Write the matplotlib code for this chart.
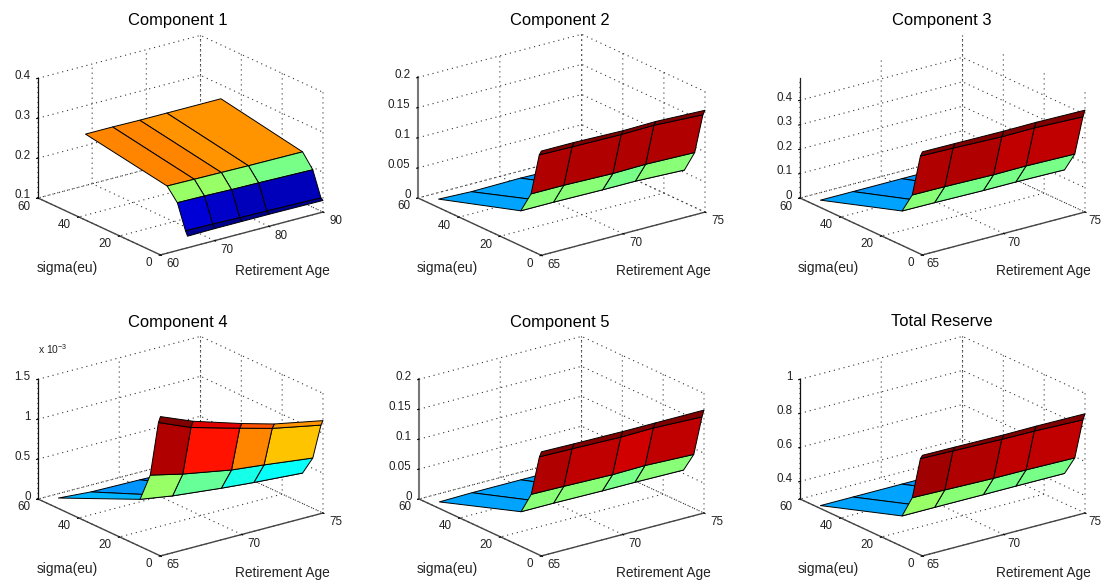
import numpy as np
import matplotlib
matplotlib.use("Agg")
import matplotlib.pyplot as plt
from matplotlib.colors import LinearSegmentedColormap
from mpl_toolkits.mplot3d import proj3d

plt.rcParams["font.family"] = ["Liberation Sans", "DejaVu Sans"]
plt.rcParams["mathtext.default"] = "regular"
plt.rcParams["grid.color"] = "#333333"
plt.rcParams["grid.linewidth"] = 0.8
plt.rcParams["grid.linestyle"] = (0, (1, 3.5))

W, H = 1102, 581

# ages on the surface grid, sigma on the surface grid
ages_long = [65, 70, 75, 80, 90]
ages_short = [65, 67, 70, 72, 75]
sigma = [0, 1, 5, 10, 50]

# each row is one sigma, each column one retirement age
comp1 = [[0.129, 0.130, 0.130, 0.130, 0.129],
         [0.140, 0.139, 0.137, 0.136, 0.133],
         [0.201, 0.200, 0.198, 0.197, 0.194],
         [0.231, 0.230, 0.229, 0.228, 0.227],
         [0.266, 0.266, 0.265, 0.265, 0.265]]
comp2 = [[0.173, 0.173, 0.171, 0.172, 0.169],
         [0.165, 0.164, 0.163, 0.164, 0.160],
         [0.094, 0.094, 0.092, 0.093, 0.091],
         [0.058, 0.058, 0.057, 0.057, 0.054],
         [0.014, 0.012, 0.013, 0.012, 0.012]]
comp3 = [[0.422, 0.421, 0.419, 0.420, 0.417],
         [0.401, 0.398, 0.392, 0.393, 0.386],
         [0.226, 0.225, 0.221, 0.222, 0.218],
         [0.141, 0.140, 0.137, 0.137, 0.134],
         [0.030, 0.030, 0.030, 0.030, 0.030]]
comp4 = [[1.746, 1.580, 1.390, 1.277, 1.158],
         [1.660, 1.490, 1.320, 1.210, 1.090],
         [0.953, 0.859, 0.749, 0.705, 0.630],
         [0.590, 0.526, 0.461, 0.425, 0.382],
         [0.131, 0.100, 0.090, 0.080, 0.070]]
comp5 = [[0.174, 0.173, 0.172, 0.172, 0.172],
         [0.164, 0.163, 0.161, 0.162, 0.159],
         [0.095, 0.094, 0.092, 0.093, 0.090],
         [0.058, 0.058, 0.057, 0.057, 0.056],
         [0.011, 0.012, 0.012, 0.012, 0.012]]
total = [[0.888, 0.886, 0.882, 0.883, 0.880],
         [0.863, 0.858, 0.850, 0.848, 0.839],
         [0.611, 0.606, 0.599, 0.598, 0.593],
         [0.476, 0.476, 0.475, 0.475, 0.474],
         [0.314, 0.314, 0.314, 0.314, 0.314]]

titles = ["Component 1", "Component 2", "Component 3",
          "Component 4", "Component 5", "Total Reserve"]
surfaces = [comp1, comp2, comp3, comp4, comp5, total]
age_grids = [ages_long, ages_short, ages_short, ages_short, ages_short, ages_short]
x_limits = [(60, 90), (65, 75), (65, 75), (65, 75), (65, 75), (65, 75)]
z_limits = [(0.1, 0.4), (0, 0.2), (0, 0.49), (0, 1.5), (0, 0.2), (0.297, 1)]
x_ticks = [[60, 70, 80, 90], [65, 70, 75], [65, 70, 75],
           [65, 70, 75], [65, 70, 75], [65, 70, 75]]
z_ticks = [[0.1, 0.2, 0.3, 0.4], [0, 0.05, 0.1, 0.15, 0.2], [0, 0.1, 0.2, 0.3, 0.4],
           [0, 0.5, 1, 1.5], [0, 0.05, 0.1, 0.15, 0.2], [0.4, 0.6, 0.8, 1]]
z_labels = [["0.1", "0.2", "0.3", "0.4"], ["0", "0.05", "0.1", "0.15", "0.2"],
            ["0", "0.1", "0.2", "0.3", "0.4"], ["0", "0.5", "1", "1.5"],
            ["0", "0.05", "0.1", "0.15", "0.2"], ["0.4", "0.6", "0.8", "1"]]
sigma_ticks = [0, 20, 40, 60]

# pixel layout: left corner x, bottom of the z axis y, right corner x
corners = [(38, 198, 323), (418, 198, 705), (800, 198, 1085),
           (38, 499, 323), (419, 499, 704), (800, 499, 1085)]
title_pos = [(178, 20), (560, 20), (942, 20), (178, 322), (560, 322), (942, 322)]
sigma_pos = [(67, 268), (447, 268), (828, 268), (67, 569), (447, 569), (828, 569)]
age_pos = [(282, 271), (663, 271), (1043, 271), (282, 573), (663, 573), (1043, 573)]
z_line = [("#111111", 0.9), ("#777777", 1.5), ("#222222", 0.9),
          ("#111111", 0.9), ("#777777", 1.5), ("#111111", 0.9)]
x_label_dx = [6, 6, 3.5, 6, 6, 3.5]

# matlab flavour of jet, it differs a bit from the matplotlib one
jet = LinearSegmentedColormap.from_list(
    "matlab_jet",
    [(0, (0, 0, 0.5625)), (0.125, (0, 0, 1)), (0.375, (0, 1, 1)),
     (0.625, (1, 1, 0)), (0.875, (1, 0, 0)), (1, (0.5, 0, 0))], N=64)
ink = "#222222"


def fx(px):
    return px / W


def fy(py):
    return 1 - py / H


def to_px(ax, x, y, z):
    px, py, _ = proj3d.proj_transform(x, y, z, ax.get_proj())
    return ax.transData.transform((px, py))


def fit_axes(fig, ax, left_x, left_y, right_x, xlim, zlim):
    # scale and move the square axes so the box corners land on the target pixels
    for _ in range(2):
        fig.canvas.draw()
        a = to_px(ax, xlim[0], 60, zlim[0])
        b = to_px(ax, xlim[1], 0, zlim[0])
        pos = ax.get_position(original=True)
        k = (right_x - left_x) / (b[0] - a[0])
        dx = left_x - a[0]
        dy = (H - left_y) - a[1]
        cx = (pos.x0 + pos.x1) / 2 + dx / W
        cy = (pos.y0 + pos.y1) / 2 + dy / H
        # the scale acts round the centre of the axes, so correct for it
        ctr = ((pos.x0 + pos.x1) / 2 * W, (pos.y0 + pos.y1) / 2 * H)
        cx += (k - 1) * (ctr[0] - a[0]) / W
        cy += (k - 1) * (ctr[1] - a[1]) / H
        w = pos.width * k
        h = pos.height * k
        ax.set_position([cx - w / 2, cy - h / 2, w, h])
    fig.canvas.draw()


def label_at(ax, x, y, z, text, dx, dy, ha):
    # tick label placed relative to where the tick lands on screen
    p = to_px(ax, x, y, z)
    fig.text((p[0] + dx) / W, (p[1] - dy) / H, text, fontsize=8.4,
             ha=ha, va="center", color=ink)


fig = plt.figure(figsize=(W / 100, H / 100), dpi=100)

for i in range(6):
    ax = fig.add_axes([0.02 + (i % 3) * 0.33, 0.52 - (i // 3) * 0.5, 0.3, 0.45],
                      projection="3d", proj_type="ortho")
    ax.patch.set_alpha(0)
    ax.view_init(elev=20.5, azim=-127)
    ax.set_box_aspect((1, 1, 0.628))

    x_grid, y_grid = np.meshgrid(age_grids[i], sigma)
    z = np.array(surfaces[i])
    colors = jet((z - z.min()) / (z.max() - z.min()))
    ax.plot_surface(x_grid, y_grid, z, facecolors=colors, rstride=1, cstride=1,
                    shade=False, edgecolor="black", linewidth=0.7, antialiased=True)

    ax.set_xlim(*x_limits[i])
    ax.set_ylim(0, 60)
    ax.set_zlim(*z_limits[i])
    ax.set_xticks(x_ticks[i])
    ax.set_yticks(sigma_ticks)
    ax.set_zticks(z_ticks[i])
    ax.set_xticklabels([])
    ax.set_yticklabels([])
    ax.set_zticklabels([])

    for axis in (ax.xaxis, ax.yaxis, ax.zaxis):
        axis.set_pane_color((1, 1, 1, 0))
        axis.pane.set_edgecolor("none")
        axis.line.set_color("#444444")
        axis.line.set_linewidth(1.0)
        axis._axinfo["tick"]["inward_factor"] = 0.1
        axis._axinfo["tick"]["outward_factor"] = 0.0
        axis._axinfo["tick"]["linewidth"] = {True: 0.8, False: 0.8}
    ax.zaxis.line.set_color(z_line[i][0])
    ax.zaxis.line.set_linewidth(z_line[i][1])
    ax.zaxis.set_ticks_position("upper")

    fit_axes(fig, ax, corners[i][0], corners[i][1], corners[i][2],
             x_limits[i], z_limits[i])

    for t in x_ticks[i]:
        label_at(ax, t, 0, z_limits[i][0], str(t), x_label_dx[i], 9.3, "left")
    for t in sigma_ticks:
        label_at(ax, x_limits[i][0], t, z_limits[i][0], str(t), -8, 8.5, "right")
    for t, s in zip(z_ticks[i], z_labels[i]):
        label_at(ax, x_limits[i][0], 60, t, s, -7.5, -2.5, "right")

    fig.text(fx(title_pos[i][0]), fy(title_pos[i][1]), titles[i], fontsize=11.9,
             ha="center", va="center", color="black")
    fig.text(fx(sigma_pos[i][0]), fy(sigma_pos[i][1]), "sigma(eu)", fontsize=9.9,
             ha="center", va="center", color=ink)
    fig.text(fx(age_pos[i][0]), fy(age_pos[i][1]), "Retirement Age", fontsize=9.9,
             ha="center", va="center", color=ink)

fig.text(fx(38), fy(349), "x 10$^{-3}$", fontsize=7.5, ha="left", va="center", color=ink)

fig.savefig("out.png", dpi=100)
